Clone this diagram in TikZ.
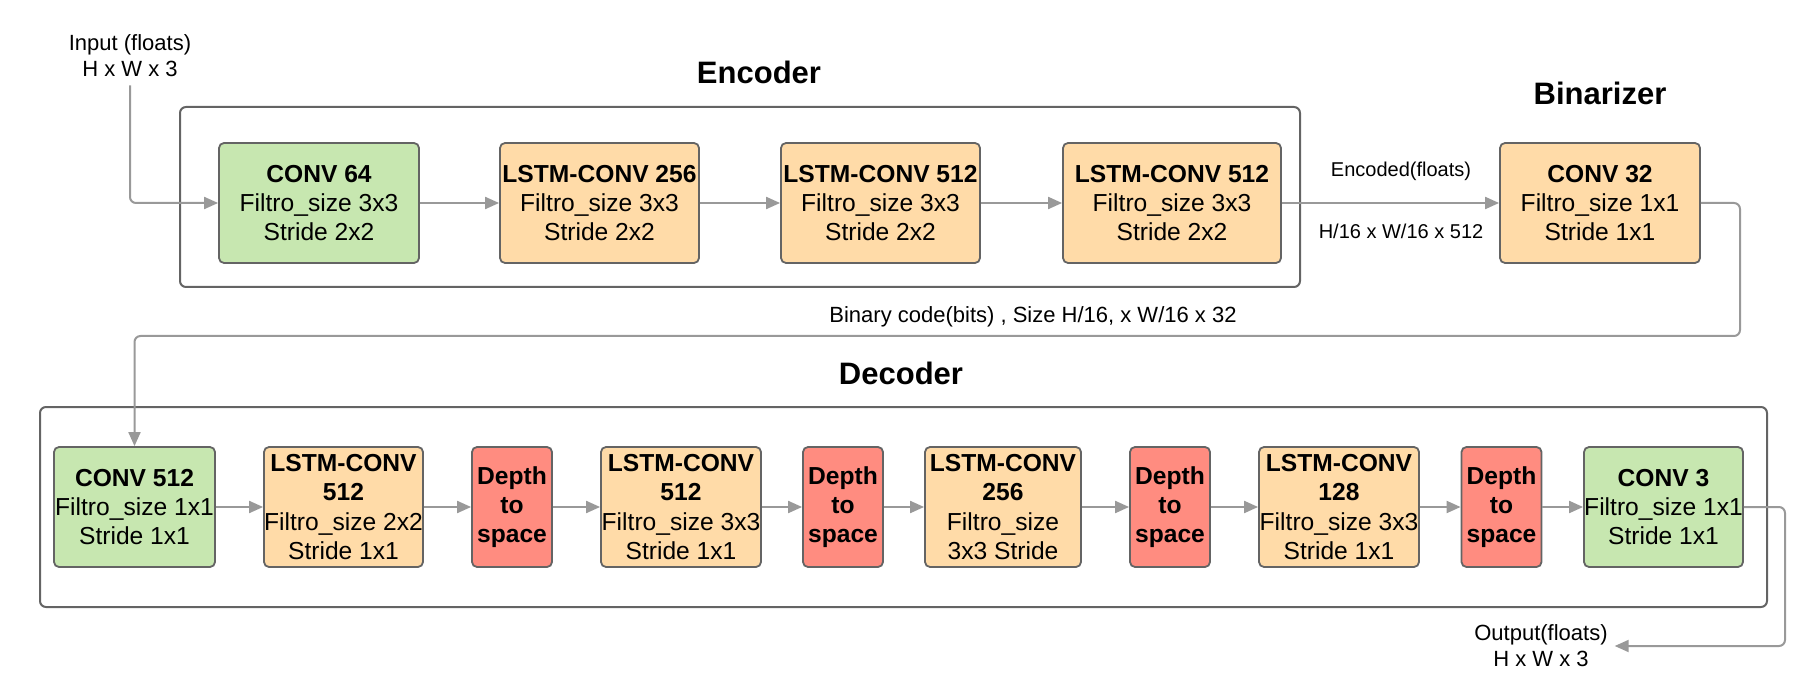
\documentclass[tikz,border=0pt]{standalone}
\usepackage{fontspec}
\setmainfont{Liberation Sans}
\usetikzlibrary{positioning, arrows.meta}

\definecolor{convgreen}{RGB}{199,231,176}
\definecolor{lstmorange}{RGB}{255,219,168}
\definecolor{depthred}{RGB}{255,140,128}
\definecolor{edgegray}{RGB}{100,100,100}
\definecolor{flowgray}{RGB}{153,153,153}

\begin{document}
\begin{tikzpicture}[
                    x=0.5pt, y=-0.5pt,
                    layer/.style={draw=edgegray, line width=0.9pt, rounded corners=2.5pt,
                                  align=center, inner sep=0pt, minimum height=60pt,
                                  font=\fontsize{12.3}{14.6}\selectfont},
                    convbox/.style={layer, fill=convgreen},
                    lstmbox/.style={layer, fill=lstmorange},
                    depthbox/.style={layer, fill=depthred, minimum width=40pt,
                                     font=\fontsize{12.3}{14.6}\selectfont\bfseries},
                    stage/.style={draw=edgegray, line width=1pt, rounded corners=3pt},
                    title/.style={font=\fontsize{15.5}{18}\selectfont\bfseries},
                    note/.style={font=\fontsize{10}{13}\selectfont, align=center},
                    flow/.style={draw=flowgray, line width=1pt, rounded corners=3pt,
                                 -{Triangle[length=7pt, width=6pt]}}
                ]
                \useasboundingbox (0,0) rectangle (1805,700);

                % encoder
                \draw[stage] (180,107) rectangle (1300,287);
                \node[title] (enctitle) at (759,72) {Encoder};
                \node[convbox, minimum width=100pt] (conv64) at (319,203)
                    {\textbf{CONV 64}\\Filtro\_size 3x3\\Stride 2x2};
                \node[lstmbox, minimum width=99.5pt] (lstm256) at (599.5,203)
                    {\textbf{LSTM-CONV 256}\\Filtro\_size 3x3\\Stride 2x2};
                \node[lstmbox, minimum width=99.5pt] (lstm512a) at (880.5,203)
                    {\textbf{LSTM-CONV 512}\\Filtro\_size 3x3\\Stride 2x2};
                \node[lstmbox, minimum width=109pt] (lstm512b) at (1172,203)
                    {\textbf{LSTM-CONV 512}\\Filtro\_size 3x3\\Stride 2x2};

                % binarizer
                \node[title] (bintitle) at (1600,93) {Binarizer};
                \node[lstmbox, minimum width=100pt] (conv32) at (1600,203)
                    {\textbf{CONV 32}\\Filtro\_size 1x1\\Stride 1x1};

                % decoder
                \draw[stage] (40,407) rectangle (1767,607);
                \node[title] (dectitle) at (901,373) {Decoder};
                \node[convbox, minimum width=80.5pt] (conv512) at (134.5,507)
                    {\textbf{CONV 512}\\Filtro\_size 1x1\\Stride 1x1};
                \node[lstmbox, minimum width=79.5pt] (lstmd1) at (343.5,507)
                    {\textbf{LSTM-CONV}\\\textbf{512}\\Filtro\_size 2x2\\Stride 1x1};
                \node[depthbox] (depth1) at (512,507) {Depth\\to\\space};
                \node[lstmbox, minimum width=80pt] (lstmd2) at (681,507)
                    {\textbf{LSTM-CONV}\\\textbf{512}\\Filtro\_size 3x3\\Stride 1x1};
                \node[depthbox] (depth2) at (843,507) {Depth\\to\\space};
                \node[lstmbox, minimum width=78pt] (lstmd3) at (1003,507)
                    {\textbf{LSTM-CONV}\\\textbf{256}\\Filtro\_size\\3x3 Stride};
                \node[depthbox] (depth3) at (1170,507) {Depth\\to\\space};
                \node[lstmbox, minimum width=80pt] (lstmd4) at (1339,507)
                    {\textbf{LSTM-CONV}\\\textbf{128}\\Filtro\_size 3x3\\Stride 1x1};
                \node[depthbox] (depth4) at (1501.5,507) {Depth\\to\\space};
                \node[convbox, minimum width=79.5pt] (conv3) at (1663.5,507)
                    {\textbf{CONV 3}\\Filtro\_size 1x1\\Stride 1x1};

                % texts outside the blocks
                \node[note, font=\fontsize{11}{13}\selectfont, inner sep=4pt] (input) at (130,56)
                    {Input (floats)\\H x W x 3};
                \node[note, font=\fontsize{11}{13}\selectfont] (output) at (1541,646)
                    {Output(floats)\\H x W x 3};
                \node[note] (encoded) at (1401,171) {Encoded(floats)};
                \node[note] (encsize) at (1401,231) {H/16 x W/16 x 512};
                \node[note, font=\fontsize{11}{13}\selectfont] (bincode) at (1033,317)
                    {Binary code(bits) , Size H/16, x W/16 x 32};
                \coordinate (binbend) at (1740,336);
                \coordinate (outbend) at (1785,646);

                % connectors
                \draw[flow] (input.south) |- (conv64.west);
                \draw[flow] (conv64) -- (lstm256);
                \draw[flow] (lstm256) -- (lstm512a);
                \draw[flow] (lstm512a) -- (lstm512b);
                \draw[flow] (lstm512b) -- (conv32);
                \draw[flow] (conv32.east) -| (binbend) -| (conv512.north);
                \draw[flow] (conv512) -- (lstmd1);
                \draw[flow] (lstmd1) -- (depth1);
                \draw[flow] (depth1) -- (lstmd2);
                \draw[flow] (lstmd2) -- (depth2);
                \draw[flow] (depth2) -- (lstmd3);
                \draw[flow] (lstmd3) -- (depth3);
                \draw[flow] (depth3) -- (lstmd4);
                \draw[flow] (lstmd4) -- (depth4);
                \draw[flow] (depth4) -- (conv3);
                \draw[flow] (conv3.east) -| (outbend) -- (output.east);
                \end{tikzpicture}
\end{document}
